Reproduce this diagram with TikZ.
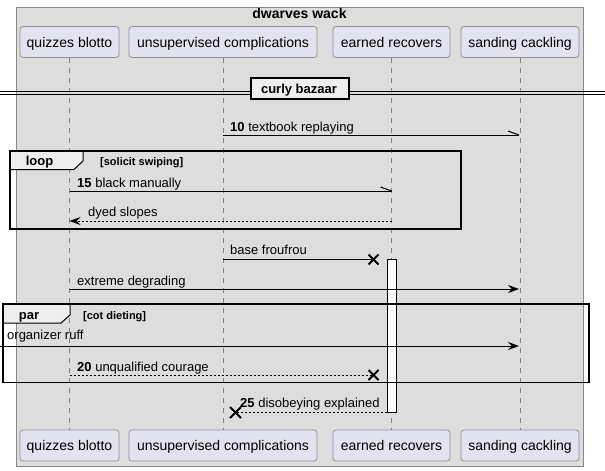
\documentclass[tikz,border=0pt]{standalone}
\usepackage{fontspec}
\setmainfont{Liberation Sans}
\usetikzlibrary{arrows.meta,calc}
\definecolor{boxbg}{HTML}{DDDDDD}
\definecolor{boxline}{HTML}{888888}
\definecolor{partbg}{HTML}{E2E2F0}
\definecolor{partline}{HTML}{909090}
\definecolor{tabbg}{HTML}{EEEEEE}
\definecolor{lifecol}{HTML}{808080}
\begin{document}
\begin{tikzpicture}[x=1pt,y=-1pt,
  part/.style={draw=partline, fill=partbg, rounded corners=3pt, line width=0.8pt,
    inner sep=0pt, minimum height=31pt, text height=10pt, text depth=0pt,
    font=\fontsize{14}{16}\selectfont},
  lifeln/.style={draw=lifecol, line width=0.8pt, dash pattern=on 5pt off 5pt},
  msg/.style={draw=black, line width=1pt},
  dmsg/.style={draw=black, line width=1pt, dash pattern=on 2pt off 2pt},
  arr/.style={-{Stealth[length=11pt,width=8pt,inset=4pt]}},
  lbl/.style={anchor=base west, inner sep=0pt, font=\fontsize{13}{15}\selectfont},
  grplbl/.style={anchor=base west, inner sep=0pt, font=\bfseries\fontsize{11}{13}\selectfont},
  grpname/.style={anchor=base, inner sep=0pt, font=\bfseries\fontsize{13}{15}\selectfont},
  frame/.style={draw=black, line width=1.5pt},
  xmark/.style={draw=black, line width=1.8pt}
]
\useasboundingbox (0,0) rectangle (605,471);

% enclosing box
\draw[draw=boxline, fill=boxbg, line width=0.8pt] (16,7) rectangle (583,466);
\node[anchor=base, inner sep=0pt, font=\bfseries\fontsize{14}{16}\selectfont] (title) at (299.5,18.5) {dwarves wack};

% participants
\node[part, minimum width=99pt]  (qT) at (69.5,42) {quizzes blotto};
\node[part, minimum width=188pt] (uT) at (223,42) {unsupervised complications};
\node[part, minimum width=117pt] (eT) at (391.5,42) {earned recovers};
\node[part, minimum width=118pt] (sT) at (520,42) {sanding cackling};
\node[part, minimum width=99pt]  (qB) at (69.5,445.5) {quizzes blotto};
\node[part, minimum width=188pt] (uB) at (223,445.5) {unsupervised complications};
\node[part, minimum width=117pt] (eB) at (391.5,445.5) {earned recovers};
\node[part, minimum width=118pt] (sB) at (520,445.5) {sanding cackling};

% lifelines
\draw[lifeln] (qT.south) -- (qB.north);
\draw[lifeln] (uT.south) -- (uB.north);
\draw[lifeln] (eT.south) -- (eB.north);
\draw[lifeln] (sT.south) -- (sB.north);

% divider
\coordinate (dl1) at (0,91);  \coordinate (dr1) at (605,91);
\coordinate (dl2) at (0,94);  \coordinate (dr2) at (605,94);
\draw[line width=1pt] (dl1) -- (dr1);
\draw[line width=1pt] (dl2) -- (dr2);
\draw[frame, fill=tabbg] (251,78) rectangle (349,99);
\node[anchor=base, inner sep=0pt, font=\bfseries\fontsize{13}{15}\selectfont] (div) at (299,93.5) {curly bazaar};

% message 10
\coordinate (m10a) at (223,135); \coordinate (m10b) at (519,135);
\draw[msg] (m10a) -- (m10b);
\draw[msg] (m10b) -- ++(-11,-4);
\node[lbl] (t10) at (230,131) {\textbf{10} textbook replaying};

% loop frame
\draw[line width=1pt, fill=tabbg] (10,151) -- (83,151) -- (83,161) -- (74,169.5) -- (10,169.5) -- cycle;
\draw[frame] (10,151) rectangle (461,229);
\node[grpname] (loopn) at (39.5,165.5) {loop};
\node[grplbl] (loopc) at (100,165) {[solicit swiping]};

% message 15
\coordinate (m15a) at (69.5,191); \coordinate (m15b) at (391.5,191);
\draw[msg] (m15a) -- (m15b);
\draw[msg] (m15b) -- ++(-11,-4);
\node[lbl] (t15) at (77,187) {\textbf{15} black manually};

% dyed slopes
\coordinate (mdya) at (391.5,221); \coordinate (mdyb) at (69.5,221);
\draw[dmsg, arr] (mdya) -- (mdyb);
\node[lbl] (tdy) at (88,216.5) {dyed slopes};

% activation
\node[draw=black, fill=white, line width=1pt, minimum width=9pt, minimum height=153pt, inner sep=0pt] (act) at (391.5,335.5) {};

% base froufrou
\coordinate (mbfa) at (223,259.5); \coordinate (xbf) at (373.5,259.5);
\draw[msg] (mbfa) -- (xbf);
\draw[xmark] ($(xbf)+(-5,-5)$) -- ($(xbf)+(5,5)$);
\draw[xmark] ($(xbf)+(-5,5)$) -- ($(xbf)+(5,-5)$);
\node[lbl] (tbf) at (230,254.5) {base froufrou};

% extreme degrading
\coordinate (mexa) at (69.5,289); \coordinate (mexb) at (519,289);
\draw[msg, arr] (mexa) -- (mexb);
\node[lbl] (tex) at (77,285) {extreme degrading};

% par frame
\draw[line width=1pt, fill=tabbg] (3,304) -- (70,304) -- (70,315) -- (61,323) -- (3,323) -- cycle;
\draw[frame] (3,304) rectangle (589,382.5);
\node[grpname] (parn) at (29,319.5) {par};
\node[grplbl] (parc) at (83,319) {[cot dieting]};

% organizer ruff
\coordinate (mora) at (0,346); \coordinate (morb) at (519,346);
\draw[msg, arr] (mora) -- (morb);
\node[lbl] (tor) at (7,339.5) {organizer ruff};

% message 20
\coordinate (m20a) at (69.5,375); \coordinate (x20) at (373.5,375);
\draw[dmsg] (m20a) -- (x20);
\draw[xmark] ($(x20)+(-5,-5)$) -- ($(x20)+(5,5)$);
\draw[xmark] ($(x20)+(-5,5)$) -- ($(x20)+(5,-5)$);
\node[lbl] (t20) at (77,371) {\textbf{20} unqualified courage};

% message 25
\coordinate (x25) at (235.5,412.5);
\draw[dmsg] (act.south west) -- (x25);
\draw[xmark] ($(x25)+(-5.5,-5.5)$) -- ($(x25)+(5.5,5.5)$);
\draw[xmark] ($(x25)+(-5.5,5.5)$) -- ($(x25)+(5.5,-5.5)$);
\node[lbl] (t25) at (240,407.5) {\textbf{25} disobeying explained};
\end{tikzpicture}
\end{document}
